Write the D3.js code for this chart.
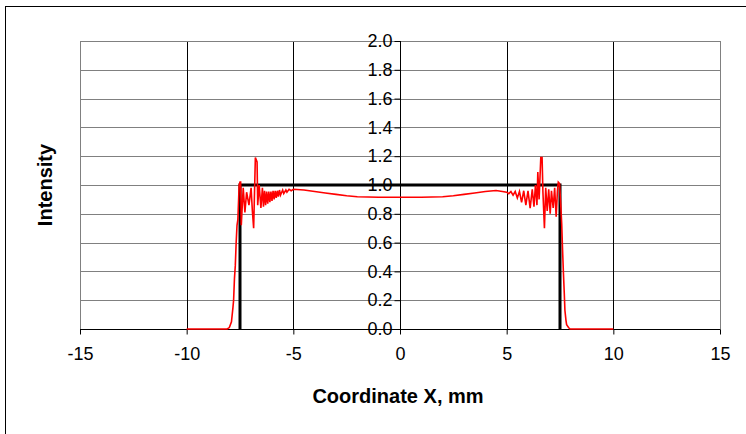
<!DOCTYPE html>
<html>
<head>
<meta charset="utf-8">
<script src="https://cdn.jsdelivr.net/npm/d3@7"></script>
<style>
  body { margin: 0; background: #fff; }
  svg { display: block; font-family: "Liberation Sans", Arial, sans-serif; }
</style>
</head>
<body>
<div id="chart"></div>
<script>
// Axis ticks
var xTicks = [-15, -10, -5, 0, 5, 10, 15];
var yTicks = [0, 0.2, 0.4, 0.6, 0.8, 1.0, 1.2, 1.4, 1.6, 1.8, 2.0];

// Ideal flat-top profile (black)
var stepX = [-7.5, -7.5, 7.5, 7.5];
var stepY = [0, 1, 1, 0];

var profileX = [
  -10, -8.1, -8.0, -7.9, -7.83, -7.8, -7.76, -7.72, -7.68, -7.64, -7.6, -7.57, -7.54, -7.5, -7.47,
  -7.44, -7.35, -7.27, -7.19, -7.08, -6.98, -6.92, -6.86, -6.78, -6.7, -6.67, -6.6, -6.52, -6.45,
  -6.4, -6.35, -6.3, -6.25, -6.2, -6.15, -6.1, -6.05, -6.0, -5.95, -5.9, -5.85, -5.8, -5.75, -5.7,
  -5.65, -5.6, -5.5, -5.45, -5.35, -5.3, -5.2, -5.1, -5.0,
  -4.5, -4.0, -3.5, -3.0, -2.5, -2.0, -1.0, 0, 1.0, 2.0, 2.5, 3.0, 3.5, 4.0, 4.5,
  4.8, 5.0, 5.1, 5.2, 5.3, 5.4, 5.5, 5.6, 5.7, 5.8, 5.9, 6.0, 6.1, 6.2, 6.28, 6.35, 6.42, 6.46,
  6.52, 6.6, 6.66, 6.7, 6.77, 6.83, 6.9, 6.97, 7.04, 7.1, 7.18, 7.25, 7.32, 7.38, 7.42, 7.48,
  7.54, 7.58, 7.62, 7.66, 7.7, 7.73, 7.78, 7.81, 7.9, 7.97, 10
];
var profileY = [
  0, 0, 0.01, 0.05, 0.15, 0.2, 0.35, 0.44, 0.6, 0.72, 0.76, 0.88, 1.0, 1.02, 1.02,
  0.72, 0.98, 0.81, 0.95, 0.86, 0.98, 0.82, 0.70, 1.19, 1.16, 0.86, 1.0, 0.84, 0.98,
  0.85, 0.96, 0.86, 0.955, 0.87, 0.955, 0.88, 0.955, 0.89, 0.96, 0.90, 0.96, 0.91, 0.96, 0.92,
  0.965, 0.93, 0.965, 0.94, 0.965, 0.95, 0.97, 0.96, 0.97,
  0.965, 0.955, 0.945, 0.935, 0.925, 0.918, 0.915, 0.915, 0.915, 0.918, 0.925, 0.935, 0.945, 0.955, 0.962,
  0.955, 0.95, 0.94, 0.955, 0.93, 0.955, 0.91, 0.955, 0.88, 0.96, 0.86, 0.96, 0.84, 0.97, 0.85, 1.0, 0.86, 1.09,
  0.9, 1.19, 1.19, 0.95, 0.70, 0.98, 0.82, 0.97, 0.80, 0.96, 0.84, 0.98, 0.78, 0.96, 1.02, 1.01,
  0.85, 0.73, 0.55, 0.39, 0.25, 0.13, 0.06, 0.03, 0.01, 0, 0
];

var width = 746, height = 434;
var plot = {left: 80, right: 720, top: 41, bottom: 329};

var svg = d3.select("#chart").append("svg")
    .attr("width", width)
    .attr("height", height);

// outer chart frame (runs off the right and bottom edges)
svg.append("rect")
    .attr("x", 5.5).attr("y", 6.5)
    .attr("width", 800).attr("height", 500)
    .style("fill", "none").style("stroke", "#000").style("stroke-width", 1);

var x = d3.scaleLinear().domain([-15, 15]).range([plot.left, plot.right]);
var y = d3.scaleLinear().domain([0, 2]).range([plot.bottom, plot.top]);

// horizontal gridlines
svg.append("g").selectAll("line")
    .data(yTicks.slice(1))
    .enter().append("line")
    .attr("x1", plot.left).attr("x2", plot.right)
    .attr("y1", function (d) { return Math.round(y(d)) + 0.5; })
    .attr("y2", function (d) { return Math.round(y(d)) + 0.5; })
    .style("stroke", "#808080");

// vertical gridlines
svg.append("g").selectAll("line")
    .data(xTicks.filter(function (d) { return d !== 0 && Math.abs(d) !== 15; }))
    .enter().append("line")
    .attr("x1", function (d) { return Math.round(x(d)) + 0.5; })
    .attr("x2", function (d) { return Math.round(x(d)) + 0.5; })
    .attr("y1", plot.top).attr("y2", plot.bottom)
    .style("stroke", "#000");

// plot area border
svg.append("rect")
    .attr("x", plot.left + 0.5).attr("y", plot.top + 0.5)
    .attr("width", plot.right - plot.left).attr("height", plot.bottom - plot.top)
    .style("fill", "none").style("stroke", "#808080");

// x axis
var xAxis = svg.append("g")
    .attr("transform", "translate(0," + (plot.bottom + 0.5) + ")")
    .call(d3.axisBottom(x).tickValues(xTicks).tickSize(5).tickPadding(13)
        .tickFormat(function (d) { return String(d); }));
xAxis.select(".domain").attr("d", "M" + plot.left + ",0H" + plot.right);

// y axis through x = 0
var yAxis = svg.append("g")
    .attr("transform", "translate(" + (Math.round(x(0)) + 0.5) + ",0)")
    .call(d3.axisLeft(y).tickValues(yTicks).tickSize(6).tickPadding(2).tickFormat(d3.format(".1f")));
yAxis.select(".domain").attr("d", "M0," + plot.top + "V" + plot.bottom);

svg.selectAll(".tick text")
    .style("font-family", "'Liberation Sans', Arial, sans-serif")
    .style("font-size", "18px")
    .style("fill", "#000");
svg.selectAll(".domain, .tick line").style("stroke", "#000");

var line = d3.line()
    .x(function (d) { return x(d[0]); })
    .y(function (d) { return y(d[1]); });

// black ideal profile
svg.append("path")
    .datum(d3.zip(stepX, stepY))
    .attr("d", line)
    .style("fill", "none").style("stroke", "#000").style("stroke-width", 3);

// red profile
svg.append("path")
    .datum(d3.zip(profileX, profileY))
    .attr("d", line)
    .style("fill", "none").style("stroke", "#ff0000").style("stroke-width", 1.6)
    .style("stroke-linejoin", "miter");

// axis titles
svg.append("text")
    .attr("x", 398).attr("y", 403)
    .attr("text-anchor", "middle")
    .style("font-size", "20px").style("font-weight", "bold")
    .text("Coordinate X, mm");

svg.append("text")
    .attr("transform", "translate(52,185) rotate(-90)")
    .attr("text-anchor", "middle")
    .style("font-size", "20px").style("font-weight", "bold")
    .text("Intensity");
</script>
</body>
</html>
